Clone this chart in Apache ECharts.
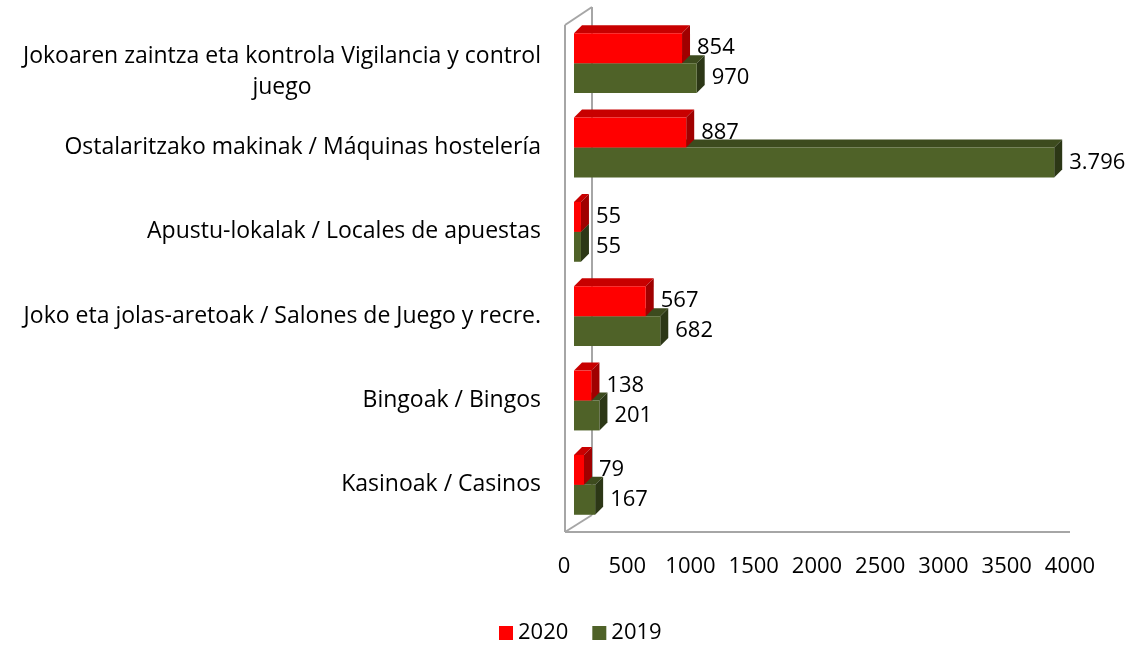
<!DOCTYPE html>
<html>
<head>
<meta charset="utf-8">
<script src="https://cdn.jsdelivr.net/npm/echarts@6/dist/echarts.min.js"></script>
<style>
  html, body { margin: 0; padding: 0; background: #fff; }
  #chart { width: 1139px; height: 648px; }
</style>
</head>
<body>
<div id="chart"></div>
<script>
const categories = [
  "Jokoaren zaintza eta kontrola Vigilancia y control\njuego",
  "Ostalaritzako makinak / Máquinas hostelería",
  "Apustu-lokalak / Locales de apuestas",
  "Joko eta jolas-aretoak / Salones de Juego y recre.",
  "Bingoak / Bingos",
  "Kasinoak / Casinos",
];
const values2020 = [854, 887, 55, 567, 138, 79];
const values2019 = [970, 3796, 55, 682, 201, 167];
const xTicks = [0, 4000, 500]; // min, max, interval

const FONT = "'Open Sans', sans-serif";
const DEPTH = 8;

const colors = {
  "2020": { front: "#FF0000", top: "#C80000", side: "#A00000" },
  "2019": { front: "#4F6228", top: "#3D4B1E", side: "#2C3716" },
};

function fmt(v) {
  return String(v).replace(/\B(?=(\d{3})+(?!\d))/g, ".");
}

// 3D-looking bar: front face, top face and side face
function bar3d(name, upper) {
  const c = colors[name];
  return function (params, api) {
    const v = api.value(0);
    const cat = api.value(1);
    const end = api.coord([v, cat]);
    const start = api.coord([0, cat]);
    const band = api.size([0, 1])[1];
    const bh = band * 0.355;
    const x0 = start[0], x1 = end[0];
    const y0 = upper ? end[1] - bh : end[1];
    const y1 = upper ? end[1] : end[1] + bh;
    const d = DEPTH;
    return {
      type: "group",
      children: [
        {
          type: "polygon",
          shape: { points: [[x0, y0], [x0 + d, y0 - d], [x1 + d, y0 - d], [x1, y0]] },
          style: { fill: c.top },
        },
        {
          type: "polygon",
          shape: { points: [[x1, y0], [x1 + d, y0 - d], [x1 + d, y1 - d], [x1, y1]] },
          style: { fill: c.side },
        },
        {
          type: "rect",
          shape: { x: x0, y: y0, width: x1 - x0, height: y1 - y0 },
          style: { fill: c.front },
        },
        {
          type: "text",
          x: x1 + d + 7,
          y: (y0 + y1) / 2,
          style: {
            text: fmt(v),
            fill: "#000",
            font: "22px " + FONT,
            verticalAlign: "middle",
            align: "left",
          },
        },
      ],
    };
  };
}

const chart = echarts.init(document.getElementById("chart"));

const option = {
  animation: false,
  grid: { left: 574, right: 59, top: 21, bottom: 121, outerBoundsMode: "none", containLabel: false },
  legend: {
    data: ["2020", "2019"],
    left: 494,
    top: 617,
    icon: "rect",
    itemWidth: 14,
    itemHeight: 14,
    itemGap: 24,
    textStyle: { fontFamily: FONT, fontSize: 22, color: "#000" },
  },
  xAxis: {
    type: "value",
    min: xTicks[0],
    max: xTicks[1],
    interval: xTicks[2],
    axisLine: { show: false },
    axisTick: { show: false },
    splitLine: { show: false },
    axisLabel: {
      fontFamily: FONT,
      fontSize: 22,
      color: "#000",
      margin: 29,
      padding: [0, 20, 0, 0],
      formatter: (v) => String(v),
    },
  },
  yAxis: {
    type: "category",
    inverse: true,
    data: categories,
    axisLine: { show: false },
    axisTick: { show: false },
    splitLine: { show: false },
    axisLabel: {
      margin: 33,
      fontFamily: FONT,
      fontSize: 23,
      lineHeight: 31,
      color: "#000",
      formatter: function (value) {
        const lines = value.split("\n");
        if (lines.length > 1) {
          return "{g| }\n{a|" + lines[0] + "}\n" + lines.slice(1).map((l) => "{c|" + l + "}").join("\n");
        }
        return "{a|" + value + "}";
      },
      rich: {
        a: { fontFamily: FONT, fontSize: 23, lineHeight: 31, color: "#000" },
        c: { fontFamily: FONT, fontSize: 23, lineHeight: 31, color: "#000", align: "center" },
        g: { fontSize: 4, lineHeight: 18 },
      },
    },
  },
  series: [
    {
      name: "2019",
      type: "custom",
      z: 2,
      itemStyle: { color: colors["2019"].front },
      encode: { x: 0, y: 1 },
      data: values2019.map((v, i) => [v, i]),
      renderItem: bar3d("2019", false),
    },
    {
      name: "2020",
      type: "custom",
      z: 3,
      itemStyle: { color: colors["2020"].front },
      encode: { x: 0, y: 1 },
      data: values2020.map((v, i) => [v, i]),
      renderItem: bar3d("2020", true),
    },
  ],
};

chart.setOption(option);

// walls and floor of the 3D frame, placed from the axes' own scales
function drawFrame() {
  const xl = chart.convertToPixel({ xAxisIndex: 0 }, xTicks[0]);
  const xr = chart.convertToPixel({ xAxisIndex: 0 }, xTicks[1]);
  const yFirst = chart.convertToPixel({ yAxisIndex: 0 }, 0);
  const yLast = chart.convertToPixel({ yAxisIndex: 0 }, categories.length - 1);
  const band = (yLast - yFirst) / (categories.length - 1);
  const top = yFirst - band / 2;
  const bottom = yLast + band / 2;
  const fx = xl - 9, bx = xl + 18;
  const fTop = top + 4, bTop = top - 14;
  const fBot = bottom + 5, bBot = bottom - 12;
  const line = (x1, y1, x2, y2, w) => ({
    type: "line",
    z: 0,
    shape: { x1, y1, x2, y2 },
    style: { stroke: "#A6A6A6", lineWidth: w || 2 },
  });
  chart.setOption({
    graphic: [
      line(fx, fTop, fx, fBot),
      line(bx, bTop, bx, bBot),
      line(fx, fTop, bx, bTop),
      line(fx, fBot, bx, bBot),
      line(fx, fBot, xr - 10, fBot),
    ],
  });
}
drawFrame();
window.addEventListener("resize", chart.resize);
</script>
</body>
</html>
